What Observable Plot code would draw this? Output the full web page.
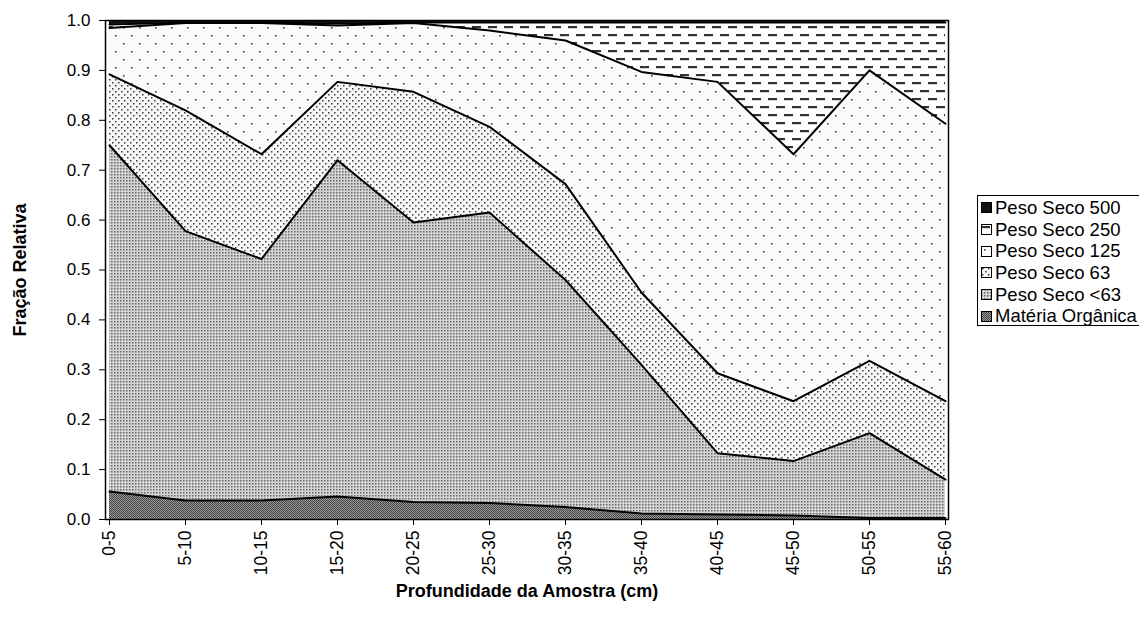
<!DOCTYPE html>
<html>
<head>
<meta charset="utf-8">
<script src="https://cdn.jsdelivr.net/npm/d3@7"></script>
<script src="https://cdn.jsdelivr.net/npm/@observablehq/plot@0.6"></script>
<style>
  html, body { margin: 0; padding: 0; background: #fff; }
  #wrap { position: relative; width: 1139px; height: 617px; overflow: hidden; font-family: "Liberation Sans", Arial, sans-serif; }
  #legend { position: absolute; left: 977px; top: 195px; width: 190px; height: 131px; border: 1px solid #000; box-sizing: border-box; background: #fff; padding-top: 1px; }
  .item { display: flex; align-items: center; height: 21.7px; font-size: 18.5px; color: #000; white-space: nowrap; }
  .item svg { margin-left: 3px; margin-right: 3px; }
</style>
</head>
<body>
<div id="wrap"><div id="chart"></div><div id="legend"></div></div>
<script>
const categories = ["0-5","5-10","10-15","15-20","20-25","25-30","30-35","35-40","40-45","45-50","50-55","55-60"];
const seriesNames = ["Matéria Orgânica","Peso Seco <63","Peso Seco 63","Peso Seco 125","Peso Seco 250","Peso Seco 500"];
const materiaOrganica = [0.056,0.038,0.038,0.046,0.035,0.033,0.025,0.012,0.010,0.008,0.003,0.003];
const pesoSecoMenor63 = [0.694,0.540,0.484,0.674,0.560,0.582,0.455,0.298,0.123,0.109,0.170,0.077];
const pesoSeco63 = [0.142,0.242,0.210,0.157,0.262,0.172,0.192,0.145,0.160,0.120,0.145,0.157];
const pesoSeco125 = [0.093,0.175,0.263,0.113,0.138,0.193,0.288,0.442,0.584,0.495,0.582,0.556];
const pesoSeco250 = [0.007,0.001,0.001,0.004,0.001,0.016,0.036,0.099,0.119,0.264,0.096,0.203];
const pesoSeco500 = [0.008,0.004,0.004,0.006,0.004,0.004,0.004,0.004,0.004,0.004,0.004,0.004];
const yTicks = [0,0.1,0.2,0.3,0.4,0.5,0.6,0.7,0.8,0.9,1.0];
const legendOrder = ["Peso Seco 500","Peso Seco 250","Peso Seco 125","Peso Seco 63","Peso Seco <63","Matéria Orgânica"];

const seriesValues = [materiaOrganica, pesoSecoMenor63, pesoSeco63, pesoSeco125, pesoSeco250, pesoSeco500];
const patternIds = ["pMO","pL63","p63","p125","p250","p500"];
const data = [];
seriesNames.forEach((s, si) => categories.forEach((c, ci) => data.push({serie: s, cat: c, value: seriesValues[si][ci]})));

const defs = `
<defs>
  <pattern id="pMO" width="2" height="2" patternUnits="userSpaceOnUse">
    <rect width="2" height="2" fill="#999"/><rect width="1" height="1" fill="#444"/><rect x="1" y="1" width="1" height="1" fill="#444"/>
  </pattern>
  <pattern id="pL63" width="3" height="3" patternUnits="userSpaceOnUse">
    <rect width="3" height="3" fill="#d4d4d4"/><rect width="1.5" height="1.5" fill="#666"/>
  </pattern>
  <pattern id="p63" width="6" height="6" patternUnits="userSpaceOnUse">
    <rect width="6" height="6" fill="#f7f7f7"/><rect x="1" y="1" width="1.5" height="1.5" fill="#3a3a3a"/><rect x="4" y="4" width="1.5" height="1.5" fill="#3a3a3a"/>
  </pattern>
  <pattern id="p125" width="16" height="16" patternUnits="userSpaceOnUse">
    <rect width="16" height="16" fill="#fbfbfb"/><rect x="3" y="3" width="1.6" height="1.6" fill="#444"/><rect x="11" y="11" width="1.6" height="1.6" fill="#444"/>
  </pattern>
  <pattern id="p250" width="16" height="16" patternUnits="userSpaceOnUse">
    <rect width="16" height="16" fill="#fff"/><rect x="0" y="2" width="9" height="2.2" fill="#333"/><rect x="8" y="10" width="8" height="2.2" fill="#333"/><rect x="0" y="10" width="1" height="2.2" fill="#333"/>
  </pattern>
  <pattern id="p500" width="2" height="2" patternUnits="userSpaceOnUse">
    <rect width="2" height="2" fill="#111"/>
  </pattern>
</defs>`;

const plot = Plot.plot({
  width: 1139,
  height: 617,
  marginLeft: 105,
  marginRight: 191,
  marginTop: 20,
  marginBottom: 98,
  style: {fontFamily: "Liberation Sans, Arial, sans-serif", fontSize: "17px", color: "#000", background: "#fff"},
  x: {type: "point", domain: categories, padding: 0, label: null},
  y: {domain: [0, 1], label: null},
  color: {domain: seriesNames, range: patternIds.map(id => `url(#${id})`)},
  marks: [
    Plot.areaY(data, Plot.stackY({x: "cat", y: "value", z: "serie", fill: "serie", order: seriesNames, curve: "linear"})),
    Plot.lineY(data, Plot.stackY2({x: "cat", y: "value", z: "serie", order: seriesNames, stroke: "#000", strokeWidth: 2, filter: d => d.serie !== "Peso Seco 500"})),
    Plot.frame({stroke: "#000", strokeWidth: 1.5}),
    Plot.axisY({ticks: yTicks, tickFormat: d3.format(".1f"), tickSize: 6, tickPadding: 9, stroke: "#000", label: null, fontSize: 17}),
    Plot.axisX({tickSize: 6, tickPadding: 5, tickRotate: -90, label: null, fontSize: 17.5}),
    Plot.text(["Fração Relativa"], {frameAnchor: "left", dx: -85, rotate: -90, textAnchor: "middle", fontWeight: "bold", fontSize: 18}),
    Plot.text(["Profundidade da Amostra (cm)"], {frameAnchor: "bottom", dy: 72, lineAnchor: "middle", fontWeight: "bold", fontSize: 18})
  ]
});
const defsNode = new DOMParser().parseFromString(`<svg xmlns="http://www.w3.org/2000/svg">${defs}</svg>`, "image/svg+xml").documentElement.firstElementChild;
plot.insertBefore(document.importNode(defsNode, true), plot.firstChild);
document.getElementById("chart").appendChild(plot);

const legend = document.getElementById("legend");
legendOrder.forEach(name => {
  const id = patternIds[seriesNames.indexOf(name)];
  const item = document.createElement("div");
  item.className = "item";
  item.innerHTML = `<svg width="11" height="11"><rect x="0.5" y="0.5" width="10" height="10" fill="url(#${id})" stroke="#000" stroke-width="1"/></svg><span>${name}</span>`;
  legend.appendChild(item);
});
</script>
</body>
</html>
